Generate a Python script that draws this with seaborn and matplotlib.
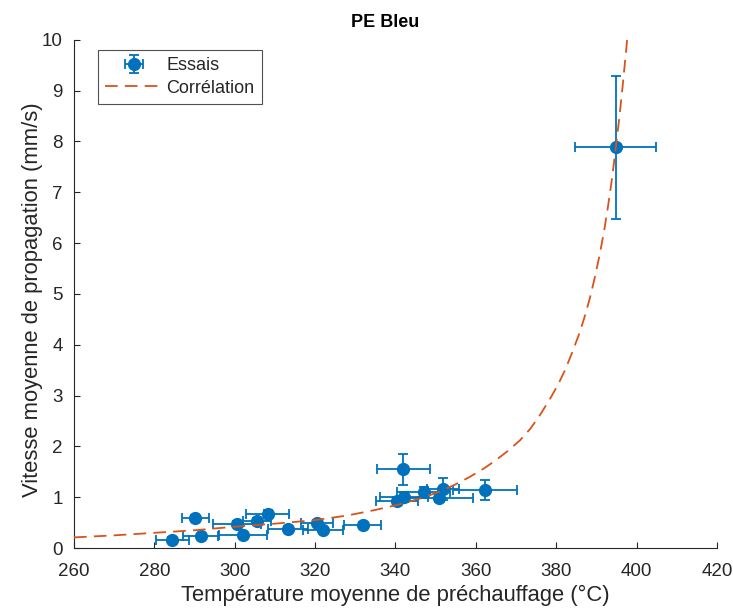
import matplotlib
matplotlib.use("Agg")
import matplotlib.pyplot as plt
import seaborn as sns
import pandas as pd

# Essais (measured points)
temp = [284.5, 290.2, 291.5, 300.6, 302.1, 305.5, 308.2, 313.3, 320.4, 322.0,
        331.9, 342.0, 340.3, 342.1, 347.0, 351.9, 350.8, 362.2, 394.8]
vitesse = [0.16, 0.59, 0.23, 0.47, 0.25, 0.54, 0.67, 0.38, 0.49, 0.35,
           0.45, 1.55, 0.93, 1.01, 1.11, 1.16, 0.98, 1.14, 7.88]
temp_err = [4.0, 3.4, 4.3, 6.0, 6.0, 3.5, 5.4, 5.0, 4.0, 5.0,
            4.6, 6.5, 5.2, 6.0, 6.6, 4.0, 8.5, 8.0, 10.0]
vitesse_err = [0.05, 0.06, 0.05, 0.06, 0.05, 0.06, 0.08, 0.05, 0.06, 0.05,
               0.06, 0.30, 0.08, 0.10, 0.10, 0.22, 0.08, 0.20, 1.40]

# Corrélation (curve)
corr_temp = [260, 270, 280, 290, 300, 310, 320, 328, 335, 341, 346.4, 351, 354.6,
             358.5, 362.1, 365, 367.8, 371, 373.6, 376, 378.5, 380.5, 382.2, 384,
             385.9, 387.2, 388.4, 389.7, 390.9, 392, 392.9, 393.9, 394.8, 395.7,
             396.5, 397.3, 398.1]
corr_vitesse = [0.21, 0.25, 0.30, 0.35, 0.42, 0.48, 0.55, 0.64, 0.75, 0.86, 0.98, 1.11,
                1.24, 1.40, 1.57, 1.73, 1.90, 2.12, 2.35, 2.62, 2.94, 3.22, 3.50, 3.85,
                4.25, 4.58, 4.92, 5.35, 5.80, 6.27, 6.72, 7.27, 7.85, 8.45,
                9.05, 9.70, 10.35]

x_ticks = [260, 280, 300, 320, 340, 360, 380, 400, 420]
y_ticks = list(range(0, 11))

sns.set_theme(style="white")
plt.rcParams['font.family'] = ['Liberation Sans', 'DejaVu Sans']

text_col = "#262626"
blue = "#0072BD"
orange = "#D95319"

fig = plt.figure(figsize=(7.33, 6.11), dpi=100)
ax = fig.add_axes([0.101, 0.103, 0.877, 0.832])

df_corr = pd.DataFrame({"T": corr_temp, "V": corr_vitesse})

eb = ax.errorbar(temp, vitesse, xerr=temp_err, yerr=vitesse_err, fmt="o",
                 color=blue, ecolor=blue, markersize=8.5, capsize=3.5,
                 elinewidth=1.3, capthick=1.3, label="Essais", zorder=3)
sns.lineplot(data=df_corr, x="T", y="V", ax=ax, color=orange, linewidth=1.3,
             dashes=False, label="Corrélation", zorder=4, sort=False)
line = ax.lines[-1]
line.set_dashes([7, 4])

ax.set_xlim(260, 420)
ax.set_ylim(0, 10)
ax.set_xticks(x_ticks)
ax.set_yticks(y_ticks)
ax.tick_params(direction="in", length=4, width=0.8, colors=text_col,
               labelsize=13.5, bottom=True, left=True)
ax.tick_params(axis="x", pad=11)
ax.tick_params(axis="y", pad=8)
for s in ["top", "right"]:
    ax.spines[s].set_visible(False)
for s in ["left", "bottom"]:
    ax.spines[s].set_color(text_col)
    ax.spines[s].set_linewidth(0.8)

ax.set_xlabel("Température moyenne de préchauffage (°C)", fontsize=15.8,
              color=text_col, labelpad=3.5)
ax.set_ylabel("Vitesse moyenne de propagation (mm/s)", fontsize=15.8,
              color=text_col, labelpad=-1)
ax.yaxis.label.set_y(0.488)
ax.set_title("PE Bleu", fontsize=13, fontweight="bold", color="black", pad=9, x=0.484)

leg = ax.legend(handles=[eb, line], labels=["Essais", "Corrélation"],
                loc="upper left", bbox_to_anchor=(0.037, 0.98), borderaxespad=0,
                fontsize=13, frameon=True, fancybox=False, edgecolor=text_col,
                handlelength=3.2, handletextpad=0.2, borderpad=0.4,
                labelspacing=0.3)
leg.get_frame().set_linewidth(0.8)

fig.savefig("out.png", dpi=100)
